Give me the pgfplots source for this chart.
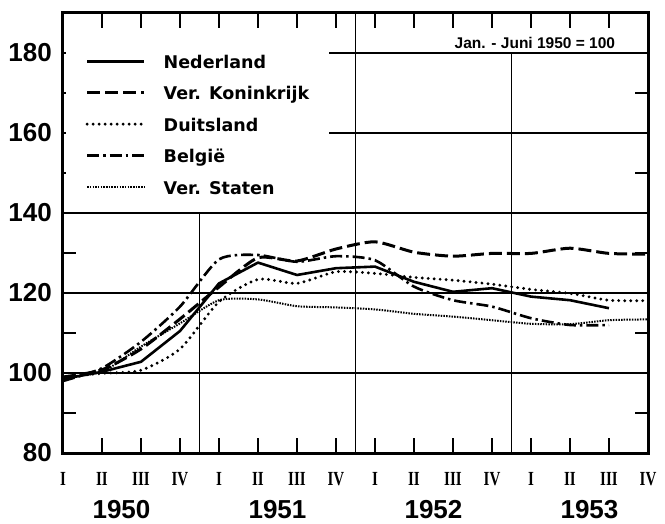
\documentclass[border=0pt]{standalone}
\usepackage{fontspec}
\usepackage{graphicx}
\usepackage{pgfplots}
\pgfplotsset{compat=1.18}
\newfontfamily\lsans{Liberation Sans}
\newfontfamily\dejavu{DejaVu Sans}
\newfontfamily\lserif{Liberation Serif}
\newcommand\bigfont{\lsans\bfseries\fontsize{26}{30}\selectfont}
\newcommand\legfont{\dejavu\bfseries\fontsize{17.5}{21}\selectfont}
\newcommand\rn[1]{\scalebox{0.75}[1]{\lserif\bfseries\fontsize{20}{22}\selectfont #1}}
\begin{document}
\begin{tikzpicture}
\begin{axis}[
  at={(0,0)}, anchor=south west,
  scale only axis, width=585pt, height=440pt,
  xmin=0, xmax=15, ymin=80, ymax=190,
  axis line style={line width=3pt},
  xtick={0,...,15},
  xticklabels={\rn{I},\rn{II},\rn{III},\rn{IV},\rn{I},\rn{II},\rn{III},\rn{IV},\rn{I},\rn{II},\rn{III},\rn{IV},\rn{I},\rn{II},\rn{III},\rn{IV}},
  xticklabel style={inner sep=0pt, text height=13pt, text depth=0pt, yshift=-19pt},
  extra x ticks={1.5,5.5,9.5,13.5},
  extra x tick labels={1950,1951,1952,1953},
  extra x tick style={major tick length=0pt, xticklabel style={font=\bigfont, text height=19pt, yshift=-27pt}},
  ytick={80,100,...,180},
  minor ytick={90,110,...,170},
  yticklabel style={font=\bigfont, inner sep=0pt, xshift=-11pt},
  /pgf/number format/assume math mode=true,
  tick align=inside,
  major tick length=15pt, minor tick length=13pt,
  tick style={line width=1.5pt, black},
  ymajorgrids, major grid style={line width=1.4pt, black},
  legend style={at={(axis cs:0.06,181.75)}, anchor=north west, draw=none, fill=white,
     inner xsep=20pt, inner ysep=8pt, row sep=17.5pt, column sep=18pt,
     font=\legfont, nodes={inner sep=0pt, text height=14pt, text depth=0pt}},
  legend cell align=left,
  legend image code/.code={\draw[#1] (0pt,0pt) -- (57pt,0pt);},
]
\draw[line width=1.4pt] (axis cs:3.5,80) -- (axis cs:3.5,140);
\draw[line width=1.4pt] (axis cs:7.5,80) -- (axis cs:7.5,190);
\draw[line width=1.4pt] (axis cs:11.5,80) -- (axis cs:11.5,180);
\node[font=\lsans\bfseries\fontsize{15.5}{18}\selectfont] at (axis cs:12.1,182.6) {Jan. - Juni 1950 = 100};

\addplot[black, line width=2.6pt, line join=round] coordinates {
(0,98.5)(1,100.3)(2,102.8)(3,110.5)(4,122.4)(5,127.6)(6,124.5)(7,126.2)(8,126.6)(9,122.8)(10,120.3)(11,121.2)(12,119.1)(13,118.2)(14,116.2)};
\addlegendentry{Nederland}
\addplot[black, line width=3pt, dash pattern=on 13pt off 5pt, smooth, tension=0.4] coordinates {
(0,99)(1,100.8)(2,106)(3,113.5)(4,121.5)(5,128.8)(6,128)(7,131)(8,132.8)(9,130.2)(10,129.2)(11,129.9)(12,129.9)(13,131.2)(14,129.9)(15,129.7)};
\addlegendentry{Ver. Koninkrijk}
\addplot[black, line width=3.2pt, line cap=round, dash pattern=on 0pt off 6pt, smooth, tension=0.4] coordinates {
(0,99)(1,99.9)(2,100.7)(3,106)(4,117.8)(5,123.4)(6,122.4)(7,125.3)(8,124.9)(9,123.9)(10,123.2)(11,122.2)(12,120.9)(13,119.9)(14,118.2)(15,118.1)};
\addlegendentry{Duitsland}
\addplot[black, line width=2.6pt, dash pattern=on 12pt off 4pt on 2.5pt off 4pt, smooth, tension=0.4] coordinates {
(0,98)(1,101.2)(2,107.8)(3,116.6)(4,128.4)(5,129.5)(6,127.8)(7,129.2)(8,128.2)(9,121.6)(10,118.2)(11,116.6)(12,113.7)(13,112)(14,112)};
\addlegendentry{België}
\addplot[black, line width=2pt, dash pattern=on 1.5pt off 1.2pt, smooth, tension=0.4] coordinates {
(0,99)(1,100.3)(2,106.6)(3,112.4)(4,118.2)(5,118.4)(6,116.7)(7,116.4)(8,115.9)(9,114.8)(10,114.1)(11,113.2)(12,112.3)(13,112.2)(14,113.2)(15,113.4)};
\addlegendentry{Ver. Staten}
\end{axis}
\pgfresetboundingbox
\path[use as bounding box] (-63pt,-70pt) rectangle (602pt,453pt);
\end{tikzpicture}
\end{document}
